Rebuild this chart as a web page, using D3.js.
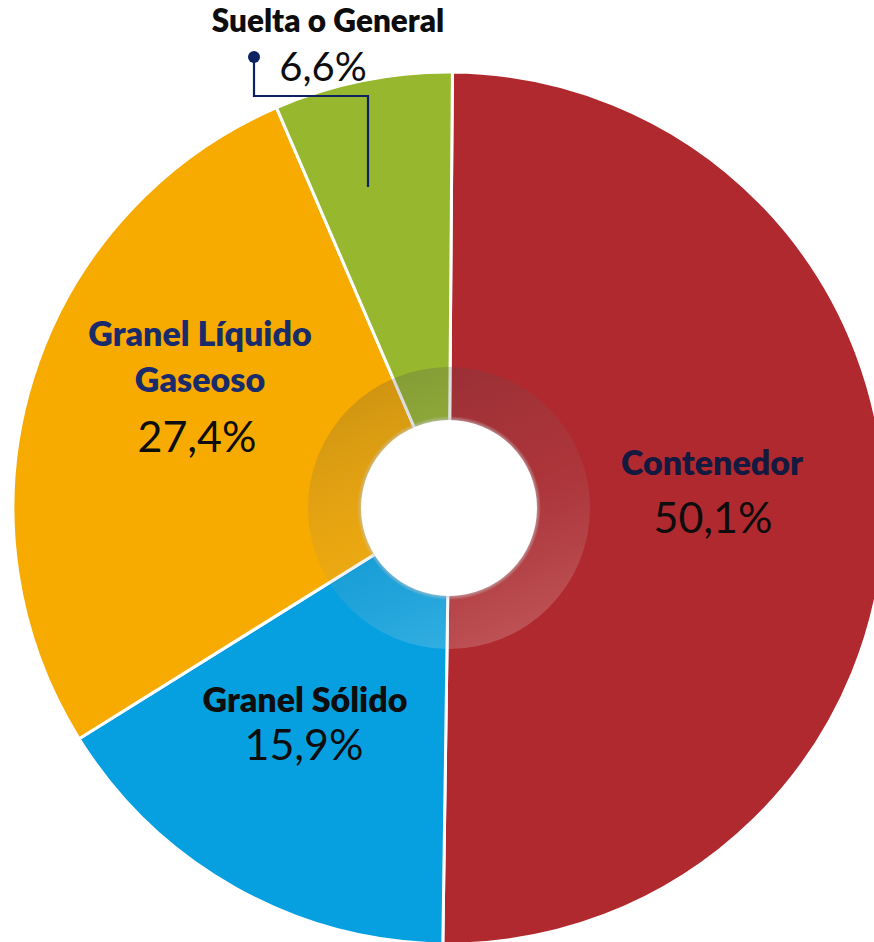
<!DOCTYPE html>
<html><head><meta charset="utf-8">
<script src="https://cdn.jsdelivr.net/npm/d3@7"></script>
<style>html,body{margin:0;padding:0;background:#fff;}svg{display:block;}</style>
</head><body>
<svg id="chart" width="874" height="942"></svg>
<script>
const categories = ["Contenedor", "Granel Sólido", "Granel Líquido Gaseoso", "Suelta o General"];
const values = [50.1, 15.9, 27.4, 6.6];
const valueLabels = ["50,1%", "15,9%", "27,4%", "6,6%"];
const nameLines = [["Contenedor"], ["Granel Sólido"], ["Granel Líquido", "Gaseoso"], ["Suelta o General"]];
const colors = ["#B0292E", "#06A0E0", "#F7AB00", "#97B72F"];

const svg = d3.select("#chart");
const cx = 449, cy = 508, R = 436;
const startDeg = 0.45;
const defs = svg.append("defs");
const g = svg.append("g").attr("transform", `translate(${cx},${cy})`);

const pie = d3.pie().sort(null).value(d => d)
  .startAngle(startDeg * Math.PI / 180)
  .endAngle((360 + startDeg) * Math.PI / 180);
const arcs = pie(values);
const arc = d3.arc().innerRadius(0).outerRadius(R);

g.selectAll("path.slice").data(arcs).enter().append("path")
  .attr("class", "slice")
  .attr("d", arc)
  .attr("fill", (d, i) => colors[i])
  .attr("stroke", "#fff").attr("stroke-width", 3).attr("stroke-linejoin", "round");

// translucent ring overlay
const grad = defs.append("linearGradient").attr("id", "ringGrad")
  .attr("x1", "0.3").attr("y1", "0").attr("x2", "0.7").attr("y2", "1");
grad.append("stop").attr("offset", "0").attr("stop-color", "#3a3a4a").attr("stop-opacity", 0.22);
grad.append("stop").attr("offset", "0.5").attr("stop-color", "#888").attr("stop-opacity", 0.12);
grad.append("stop").attr("offset", "1").attr("stop-color", "#ffffff").attr("stop-opacity", 0.2);
g.append("circle").attr("r", 141).attr("fill", "url(#ringGrad)");

// inner hole with subtle shadow edge
const sh = defs.append("radialGradient").attr("id", "holeShadow");
sh.append("stop").attr("offset", "0.93").attr("stop-color", "#c8c8cc").attr("stop-opacity", 0.9);
sh.append("stop").attr("offset", "1").attr("stop-color", "#c8c8cc").attr("stop-opacity", 0);
g.append("circle").attr("r", 92).attr("fill", "url(#holeShadow)");
g.append("circle").attr("r", 88).attr("fill", "#fff");

// labels
const labelPos = [
  {x: 712, y: 475, vx: 713, vy: 533, ns: 34, vs: 43},
  {x: 305, y: 712, vx: 304, vy: 760, ns: 34, vs: 43},
  {x: 200, y: 346, vx: 197, vy: 452, ns: 34, vs: 43},
  {x: 328, y: 32, vx: 323, vy: 81, ns: 31.5, vs: 40}
];
const nameColors = ["#14193f", "#0d0d0d", "#1a2b6b", "#0d0d0d"];
const fontFam = "Lato, 'Open Sans', sans-serif";
labelPos.forEach((p, i) => {
  nameLines[i].forEach((ln, j) => {
    svg.append("text").attr("x", p.x).attr("y", p.y + j * 46)
      .attr("text-anchor", "middle")
      .attr("font-family", fontFam).attr("font-weight", 800)
      .attr("font-size", p.ns).attr("fill", nameColors[i]).text(ln);
  });
  svg.append("text").attr("x", p.vx).attr("y", p.vy)
    .attr("text-anchor", "middle")
    .attr("font-family", fontFam).attr("font-weight", 400)
    .attr("font-size", p.vs).attr("fill", "#0d0d0d").text(valueLabels[i]);
});

// leader line for the small slice
const leader = [[254, 57], [254, 96], [368, 96], [368, 187]];
svg.append("path").attr("d", d3.line()(leader))
  .attr("fill", "none").attr("stroke", "#0d2263").attr("stroke-width", 2.2);
svg.append("circle").attr("cx", 254).attr("cy", 57).attr("r", 6).attr("fill", "#0d2263");
</script>
</body></html>
